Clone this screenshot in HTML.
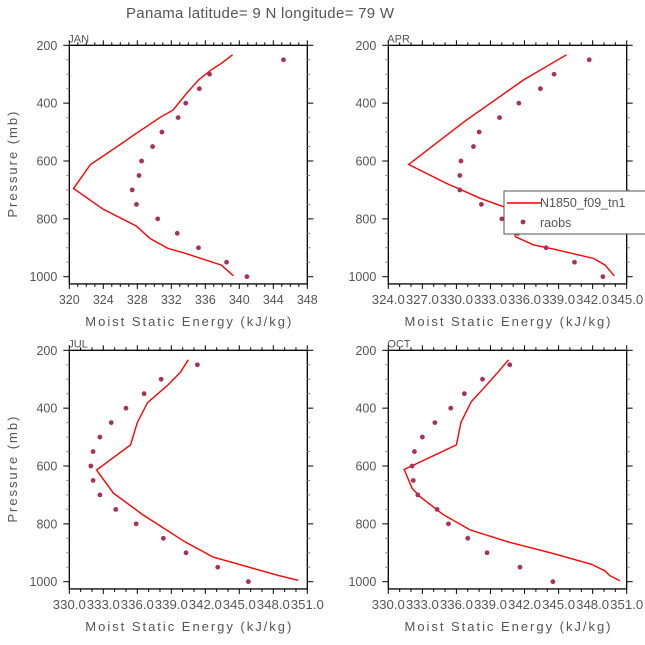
<!DOCTYPE html>
<html><head><meta charset="utf-8"><style>
body{margin:0;background:#fff}
svg text{font-family:"Liberation Sans",sans-serif;fill:#555}
</style></head><body>
<svg id="c" width="645" height="640" xmlns="http://www.w3.org/2000/svg">
<text x="260" y="18" text-anchor="middle" font-size="15" textLength="268">Panama  latitude= 9 N longitude= 79 W</text>
</svg>
<script>
const obsP=[250,300,350,400,450,500,550,600,650,700,750,800,850,900,950,1000];
const janModelP=[233,260,285,320,366,424,449,516,545,612,695,767,825,868,902,917,960,997];
const janModel=[339.2,338.0,336.7,335.2,333.8,332.2,330.7,327.3,325.9,322.5,320.5,324.0,327.9,329.5,331.6,333.4,337.9,339.3];
const janObs=[345.2,336.5,335.3,333.7,332.8,330.9,329.8,328.5,328.2,327.4,327.9,330.4,332.7,335.2,338.5,340.9];
const aprModelP=[233,274,320,378,458,527,612,677,729,766,862,890,904,937,960,997];
const aprModel=[339.7,337.9,335.9,333.8,330.9,328.6,325.8,329.1,332.1,334.7,335.2,336.8,338.5,342.1,343.1,343.9];
const aprObs=[341.7,338.6,337.4,335.5,333.8,332.0,331.5,330.4,330.3,330.3,332.2,334.0,335.4,337.9,340.4,342.9];
const julModelP=[233,276,320,381,450,527,614,694,769,862,915,978,995];
const julModel=[340.5,339.8,338.7,336.9,336.0,335.4,332.4,333.9,336.5,340.2,342.7,348.4,350.2];
const julObs=[341.3,338.1,336.6,335.0,333.7,332.7,332.1,331.9,332.1,332.7,334.1,335.9,338.3,340.3,343.1,345.8];
const octModelP=[233,283,331,378,449,527,612,677,706,767,821,863,902,940,963,979,997];
const octModel=[340.6,339.5,338.4,337.3,336.4,336.0,331.4,332.1,332.8,334.8,337.2,340.6,344.5,347.9,349.1,349.5,350.4];
const octObs=[340.7,338.3,336.7,335.5,334.1,333.0,332.3,332.1,332.2,332.6,334.3,335.3,337.0,338.7,341.6,344.5];
const janTicks=["320","324","328","332","336","340","344","348"];
const otherTicksApr=["324.0","327.0","330.0","333.0","336.0","339.0","342.0","345.0"];
const otherTicksBot=["330.0","333.0","336.0","339.0","342.0","345.0","348.0","351.0"];
const yTicks=[200,400,600,800,1000];

const NS="http://www.w3.org/2000/svg";
const svg=document.getElementById('c');
function mk(t,a,p){const e=document.createElementNS(NS,t);for(const k in a)e.setAttribute(k,a[k]);(p||svg).appendChild(e);return e;}

const panels=[
 {id:'jan',name:'JAN',x0:69.3,x1:307.3,y0:45.3,xmin:320,xmax:348,step:4,minor:4,labels:janTicks,mp:janModelP,mv:janModel,ov:janObs},
 {id:'apr',name:'APR',x0:388.3,x1:626.7,y0:45.3,xmin:324,xmax:345,step:3,minor:3,labels:otherTicksApr,mp:aprModelP,mv:aprModel,ov:aprObs},
 {id:'jul',name:'JUL',x0:69.3,x1:307.3,y0:350.3,xmin:330,xmax:351,step:3,minor:3,labels:otherTicksBot,mp:julModelP,mv:julModel,ov:julObs},
 {id:'oct',name:'OCT',x0:388.3,x1:626.7,y0:350.3,xmin:330,xmax:351,step:3,minor:3,labels:otherTicksBot,mp:octModelP,mv:octModel,ov:octObs}
];
const pxPerMb=(276.7-45.3)/800;
panels.forEach(P=>{
 const g=mk('g',{});
 
 
 const y1=P.y0+825*pxPerMb;
 const sx=v=>P.x0+(v-P.xmin)/(P.xmax-P.xmin)*(P.x1-P.x0);
 const sy=p=>P.y0+(p-200)*pxPerMb;
 const t=mk('text',{x:P.x0-1,y:P.y0-3,'font-size':11},g);t.textContent=P.name;
 
 
 const box=mk('rect',{x:P.x0,y:P.y0,width:P.x1-P.x0,height:y1-P.y0,fill:'none',stroke:'#000','stroke-width':1.3},g);
 
 
 const nMinor=(P.xmax-P.xmin)/P.step*P.minor;
 for(let i=0;i<=nMinor;i++){
  const v=P.xmin+i*P.step/P.minor,x=sx(v),maj=i%P.minor==0,l=maj?5:3;
  mk('line',{x1:x,x2:x,y1:P.y0,y2:P.y0-l,stroke:'#000','stroke-width':1},g);
  mk('line',{x1:x,x2:x,y1:y1,y2:y1+l,stroke:'#000','stroke-width':1},g);
 }
 P.labels.forEach((lb,i)=>{
  const a={x:sx(P.xmin+i*P.step),y:y1+20,'font-size':12.5,'text-anchor':'middle'};
  if(lb.length>3){a.textLength=33;a.lengthAdjust='spacingAndGlyphs';}
  const tx=mk('text',a,g);tx.textContent=lb;
  
  
 });
 for(let p=200;p<=1000;p+=50){
  const y=sy(p),maj=p%200==0,l=maj?6:3;
  mk('line',{x1:P.x0,x2:P.x0-l,y1:y,y2:y,stroke:maj?'#000':'#888','stroke-width':1},g);
  mk('line',{x1:P.x1,x2:P.x1+l,y1:y,y2:y,stroke:maj?'#000':'#888','stroke-width':1},g);
 }
 yTicks.forEach(p=>{
  const tx=mk('text',{x:P.x0-12,y:sy(p)+4.5,'font-size':12.5,'text-anchor':'end'},g);tx.textContent=p;
  
  
 });
 const xt=mk('text',{x:(P.x0+P.x1)/2,y:y1+42,'font-size':13,'text-anchor':'middle',textLength:206},g);xt.textContent='Moist Static Energy (kJ/kg)';
 
 
 if(P.x0<100){
  const cy=(P.y0+y1)/2;
  const yt=mk('text',{x:17,y:cy,'font-size':13,'text-anchor':'middle',transform:`rotate(-90 17 ${cy})`,textLength:106},g);yt.textContent='Pressure (mb)';
  
  
 }
 const pts=P.mv.map((v,i)=>sx(v).toFixed(1)+','+sy(P.mp[i]).toFixed(1)).join(' ');
 const pl=mk('polyline',{points:pts,fill:'none',stroke:'#f00','stroke-width':1.4},g);
 
 
 P.ov.forEach((v,i)=>{
  const c=mk('circle',{cx:sx(v),cy:sy(obsP[i]),r:2.4,fill:'#a8305c'},g);
  
  
 });
});
const lg=mk('g',{});


mk('rect',{x:504,y:191,width:150,height:43,fill:'#fff',stroke:'#555','stroke-width':1},lg);
mk('line',{x1:507,x2:541,y1:203,y2:203,stroke:'#f00','stroke-width':1.4},lg);
const l1=mk('text',{x:540,y:207,'font-size':12.5},lg);l1.textContent='N1850_f09_tn1';


mk('circle',{cx:523,cy:222,r:2.4,fill:'#a8305c'},lg);
const l2=mk('text',{x:540,y:227,'font-size':12.5},lg);l2.textContent='raobs';


</script>
</body></html>
